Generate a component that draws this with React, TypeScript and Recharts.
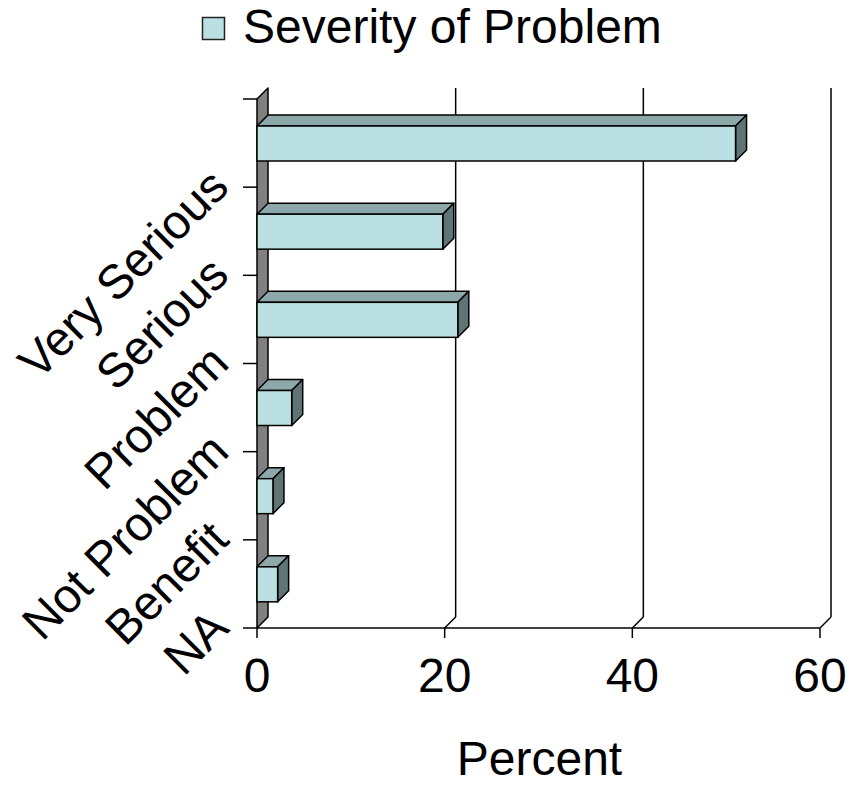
import React from 'react';
import { BarChart, Bar, XAxis, YAxis, CartesianGrid } from 'recharts';

// ---- data ----
const categories = ['Very Serious', 'Serious', 'Problem', 'Not Problem', 'Benefit', 'NA'];
const percentValues = [51.0, 19.8, 21.4, 3.7, 1.7, 2.2];
const xTicks = [0, 20, 40, 60];
const seriesName = 'Severity of Problem';
const axisTitle = 'Percent';

const data = categories.map((c, i) => ({ category: c, value: percentValues[i] }));

// ---- layout / style ----
const W = 841;
const H = 779;
const Y_AXIS_W = 240;
const X_AXIS_H = 100;
const MARGIN = { top: 91, right: 29, bottom: 59, left: 9 };
const PLOT_H = H - MARGIN.top - MARGIN.bottom - X_AXIS_H;
const DX = 11;
const DY = -11;
const FONT = '"Liberation Sans", Arial, Helvetica, sans-serif';
const FS = 48;
const FRONT = '#BBE0E3';
const TOP = '#8CA8AA';
const SIDE = '#5E7475';
const WALL = '#808080';
const SW = 1.5;

const Bar3D = (props: any) => {
  const { x, y, width, height } = props;
  if (x == null || width == null) return null;
  const p = (a: number[][]) => a.map((q) => q.join(',')).join(' ');
  return (
    <g>
      <polygon
        points={p([[x, y], [x + DX, y + DY], [x + width + DX, y + DY], [x + width, y]])}
        fill={TOP} stroke="#000" strokeWidth={SW} strokeLinejoin="round"
      />
      <polygon
        points={p([[x + width, y], [x + width + DX, y + DY], [x + width + DX, y + height + DY], [x + width, y + height]])}
        fill={SIDE} stroke="#000" strokeWidth={SW} strokeLinejoin="round"
      />
      <rect x={x} y={y} width={width} height={height} fill={FRONT} stroke="#000" strokeWidth={SW} />
    </g>
  );
};

const gridLine = (props: any) => {
  const { x1, y1, y2, index } = props;
  const k = `vg-${index}-${x1}`;
  if (index === 0) {
    return (
      <polygon
        key={k}
        points={`${x1},${y1} ${x1 + DX},${y1 + DY} ${x1 + DX},${y2 + DY} ${x1},${y2}`}
        fill={WALL} stroke="#000" strokeWidth={SW} strokeLinejoin="round"
      />
    );
  }
  return (
    <g key={k}>
      <line x1={x1 + DX} x2={x1 + DX} y1={y1 + DY} y2={y2 + DY} stroke="#000" strokeWidth={SW} />
      <line x1={x1} x2={x1 + DX} y1={y2} y2={y2 + DY} stroke="#000" strokeWidth={SW} />
    </g>
  );
};

const XTick = (props: any) => {
  const { x, y, payload } = props;
  return (
    <text x={x} y={y + 52} textAnchor="middle" fontSize={FS} fontFamily={FONT} fill="#000">
      {payload.value}
    </text>
  );
};

const YTick = (props: any) => {
  const { x, y, payload, index } = props;
  const half = PLOT_H / categories.length / 2;
  const yb = y + half;
  return (
    <g>
      {index === 0 && (
        <line x1={x - 14} x2={x} y1={y - half} y2={y - half} stroke="#000" strokeWidth={SW} />
      )}
      <line x1={x - 14} x2={x} y1={yb} y2={yb} stroke="#000" strokeWidth={SW} />
      <text
        transform={`translate(${x - 26},${yb + 2}) rotate(-45)`}
        textAnchor="end" fontSize={FS} fontFamily={FONT} fill="#000"
      >
        {payload.value}
      </text>
    </g>
  );
};

const XTitle = (props: any) => {
  const vb = props.viewBox || {};
  return (
    <text x={vb.x + vb.width / 2 + 1} y={vb.y + 147} textAnchor="middle" fontSize={FS} fontFamily={FONT} fill="#000">
      {axisTitle}
    </text>
  );
};

export default function App() {
  return (
    <div style={{ position: 'relative', width: W, height: H, background: '#fff' }}>
      <BarChart
        width={W}
        height={H}
        data={data}
        layout="vertical"
        margin={MARGIN}
        barSize={35}
      >
        <CartesianGrid horizontal={false} vertical={gridLine} stroke="#000" />
        <XAxis
          type="number"
          dataKey="value"
          domain={[0, 60]}
          ticks={xTicks}
          interval={0}
          height={X_AXIS_H}
          tickSize={10}
          tickMargin={2}
          axisLine={{ stroke: '#000', strokeWidth: SW }}
          tickLine={{ stroke: '#000', strokeWidth: SW }}
          tick={<XTick />}
          label={<XTitle />}
        />
        <YAxis
          type="category"
          dataKey="category"
          width={Y_AXIS_W}
          axisLine={false}
          tickLine={false}
          tickSize={0}
          tickMargin={0}
          interval={0}
          tick={<YTick />}
        />
        <Bar dataKey="value" name={seriesName} shape={<Bar3D />} isAnimationActive={false} />
      </BarChart>
      <svg
        width={500}
        height={60}
        style={{ position: 'absolute', left: 0, top: 0, overflow: 'visible' }}
      >
        <rect x={194.5} y={9.5} width={22} height={22} fill={FRONT} stroke="#222" strokeWidth={1.5} />
        <text x={235} y={35} fontSize={FS} fontFamily={FONT} fill="#000">
          {seriesName}
        </text>
      </svg>
    </div>
  );
}
